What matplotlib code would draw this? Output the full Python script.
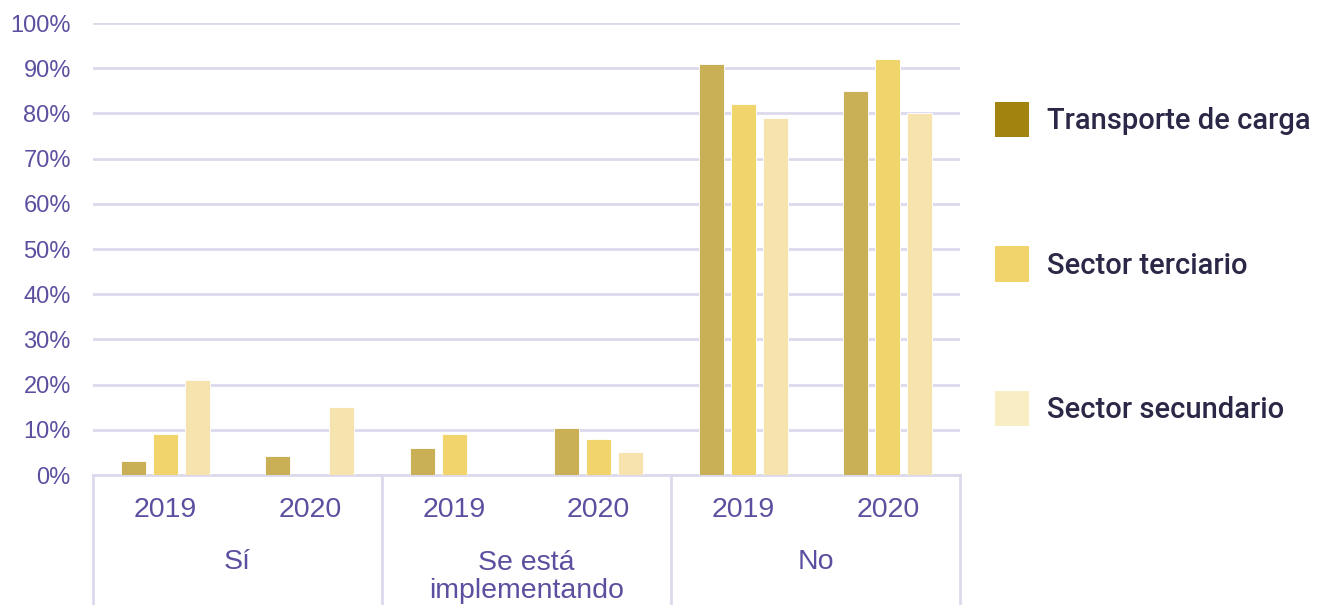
import numpy as np
import matplotlib
matplotlib.use("Agg")
import matplotlib.pyplot as plt
from matplotlib.patches import Patch

# Data
groups = ["Sí", "Se está\nimplementando", "No"]
years = ["2019", "2020", "2019", "2020", "2019", "2020"]
series = ["Transporte de carga", "Sector terciario", "Sector secundario"]
transporte = [3, 4.3, 6, 10.5, 91, 85]
terciario = [9, 0, 9, 8, 82, 92]
secundario = [21, 15, 0, 5, 79, 80]

bar_colors = ["#C9AF55", "#F2D46C", "#F6E3AD"]
legend_colors = ["#A38310", "#F2D46C", "#F9EEC3"]
txt_color = "#5B50A0"
grid_color = "#DCD9EC"

plt.rcParams['font.family'] = ['Liberation Sans', 'DejaVu Sans']

fig = plt.figure(figsize=(13.3, 6.05), dpi=100)
ax = fig.add_axes([93 / 1330, 130 / 605, 867 / 1330, 452 / 605])

x = np.arange(len(years))
w = 0.175
step = 0.222
for i, vals in enumerate([transporte, terciario, secundario]):
    ax.bar(x + (i - 1) * step, vals, width=w, color=bar_colors[i],
           edgecolor="white", linewidth=0.6, zorder=3)

ax.set_xlim(-0.5, len(years) - 0.5)
ax.set_ylim(0, 100)
ax.set_yticks(np.arange(0, 101, 10))
ax.set_yticklabels([f"{v}%" for v in range(0, 101, 10)])
ax.tick_params(axis="y", length=0, labelsize=17, labelcolor=txt_color, pad=16)
ax.set_xticks([])
ax.grid(axis="y", color=grid_color, linewidth=2, zorder=0)
for s in ["top", "right", "left"]:
    ax.spines[s].set_visible(False)
ax.spines["bottom"].set_color(grid_color)
ax.spines["bottom"].set_linewidth(2)

# category axis below
tr = ax.get_xaxis_transform()
for xi, yr in zip(x, years):
    ax.text(xi, -0.078, yr, transform=tr, ha="center", va="center",
            fontsize=20.5, color=txt_color)
for gi, g in enumerate(groups):
    yy = -0.192 if "\n" not in g else -0.226
    ax.text(2 * gi + 0.5, yy, g, transform=tr, ha="center", va="center",
            fontsize=20.5, color=txt_color, linespacing=1.1)
for b in [-0.5, 1.5, 3.5, 5.5]:
    ax.plot([b, b], [0, -0.29], transform=tr, color=grid_color,
            linewidth=2, clip_on=False)

handles = [Patch(facecolor=c, edgecolor="none") for c in legend_colors]
leg = fig.legend(handles, series, loc="upper left",
                 bbox_to_anchor=(995 / 1330, 1 - 102 / 605), frameon=False,
                 handlelength=1.17, handleheight=1.49, handletextpad=0.62,
                 labelspacing=3.74, borderaxespad=0, borderpad=0,
                 prop={"family": "Roboto", "weight": "medium", "size": 21})
for t in leg.get_texts():
    t.set_color("#2A2846")

fig.savefig("out.png", dpi=100)
